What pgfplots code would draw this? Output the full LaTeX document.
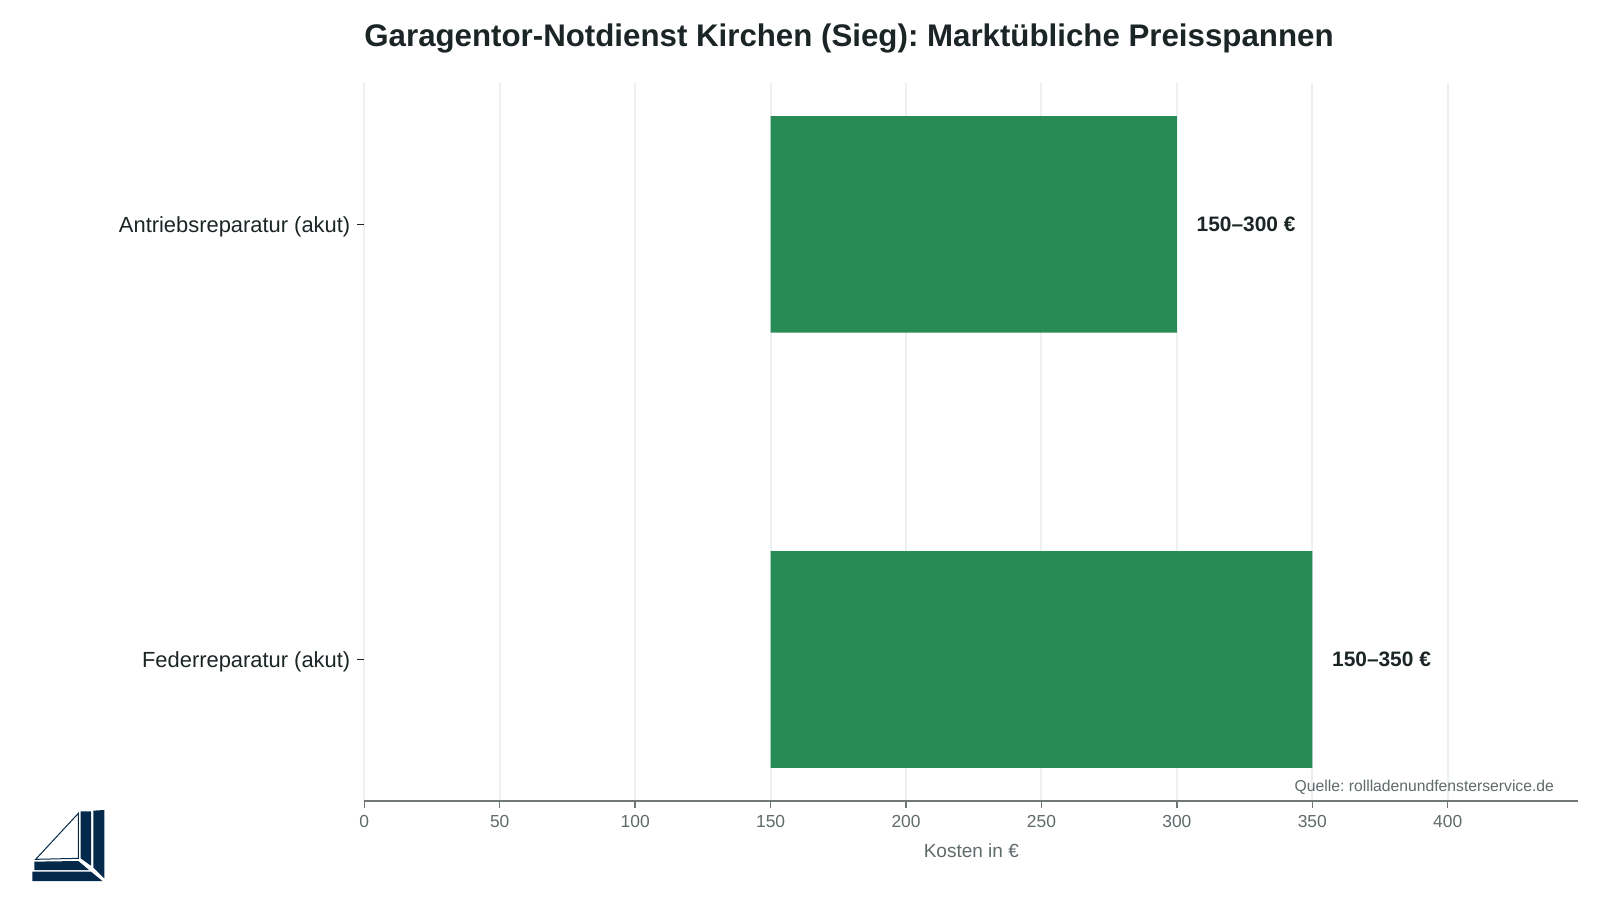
\documentclass[border=0pt]{standalone}
\usepackage{pgfplots}
\pgfplotsset{compat=1.18}
\usepackage{pgfplotstable}
\usepackage{fontspec}
\setmainfont{Liberation Sans}
\definecolor{barc}{HTML}{288A54}
\definecolor{gridc}{HTML}{ECF0F1}
\definecolor{axc}{HTML}{707775}
\definecolor{tickc}{HTML}{5F6A6A}
\definecolor{darkt}{HTML}{1C2526}
\definecolor{logoc}{HTML}{04294A}
\pgfplotstableread{
y low span high label
0 150 200 350 {150–350 €}
1 150 150 300 {150–300 €}
}\datatable
\begin{document}
\frenchspacing
\begin{tikzpicture}[x=0.5pt,y=0.5pt]
\useasboundingbox (0,0) rectangle (1600,900);
\begin{axis}[
  at={(182.15pt,49.55pt)},anchor=south west,
  scale only axis,width=607pt,height=358.95pt,
  xbar stacked,bar width=0.498,
  xmin=0,xmax=448.2,ymin=-0.325,ymax=1.325,
  axis x line*=bottom,
  axis y line*=left,
  x axis line style={axc,line width=0.9pt,-},
  y axis line style={draw=none,-},
  xtick={0,50,...,400},
  ytick={0,1},
  yticklabels={Federreparatur (akut),Antriebsreparatur (akut)},
  xmajorgrids,
  grid style={gridc,line width=1pt},
  xtick style={axc,line width=0.7pt},
  ytick style={darkt,line width=0.8pt},
  major tick length=3.5pt,
  tick align=outside,
  x tick label style={font=\fontsize{8.7}{10}\selectfont,text=tickc,yshift=-0.3pt},
  y tick label style={font=\fontsize{10.95}{12}\selectfont,text=darkt,yshift=-1.3pt},
  /pgf/number format/assume math mode=true,
  xlabel={Kosten in €},
  xlabel style={font=\fontsize{9.5}{10}\selectfont,text=tickc,yshift=-1.3pt},
  clip=false,
]
\addplot[draw=none,fill=none] table[x=low,y=y] {\datatable};
\addplot[draw=none,fill=barc] table[x=span,y=y] {\datatable};
\end{axis}
\begin{axis}[
  at={(182.15pt,49.55pt)},anchor=south west,
  scale only axis,width=607pt,height=358.95pt,
  xmin=0,xmax=448.2,ymin=-0.325,ymax=1.325,
  hide axis,clip=false,
]
\addplot[draw=none,mark=none,
  nodes near coords,point meta=explicit symbolic,
  every node near coord/.append style={font=\fontsize{10.45}{12}\selectfont\bfseries,text=darkt,anchor=west,inner sep=0pt,xshift=9.7pt,yshift=0.2pt}
] table[x=high,y=y,meta=label] {\datatable};
\end{axis}
\node[font=\fontsize{15.63}{18}\selectfont\bfseries,text=darkt] at (849,862) {Garagentor-Notdienst Kirchen (Sieg): Marktübliche Preisspannen};
\node[font=\fontsize{7.85}{10}\selectfont,text=tickc,anchor=east] at (1561,113) {Quelle: rollladenundfensterservice.de};
\begin{scope}[shift={(25,95)},x=0.16667pt,y=-0.16667pt]
\fill[logoc] (205,17)--(238,15)--(238,220)--(205,187)--cycle;
\fill[logoc] (167,19)--(198,19)--(198,182)--(167,160)--cycle;
\fill[logoc] (28,170)--(160,168)--(192,195)--(28,195)--cycle;
\fill[logoc] (22,200)--(198,200)--(232,228)--(22,228)--cycle;
\draw[logoc,line width=0.5pt,line join=miter] (160,25)--(32,163)--(160,160)--cycle;
\end{scope}
\end{tikzpicture}
\end{document}
